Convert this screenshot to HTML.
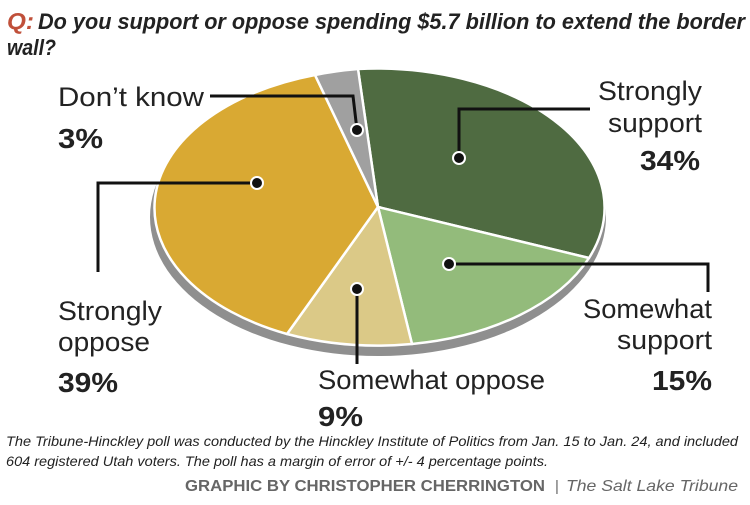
<!DOCTYPE html>
<html><head><meta charset="utf-8"><style>
html,body{margin:0;padding:0;background:#fff;}
svg{display:block;}
text{font-family:"Liberation Sans",sans-serif;}
</style></head><body>
<svg width="750" height="505" viewBox="0 0 750 505" xmlns="http://www.w3.org/2000/svg">
<text x="7" y="29" font-size="23" font-weight="bold" font-style="italic" fill="#c0503a" textLength="27" lengthAdjust="spacingAndGlyphs">Q:</text>
<text x="38" y="29" font-size="22" font-weight="bold" font-style="italic" fill="#222" textLength="707" lengthAdjust="spacingAndGlyphs">Do you support or oppose spending $5.7 billion to extend the border</text>
<text x="7" y="55" font-size="22" font-weight="bold" font-style="italic" fill="#222" textLength="49" lengthAdjust="spacingAndGlyphs">wall?</text>

<ellipse cx="378" cy="217" rx="228" ry="139" fill="#8f8f8f"/>
<g stroke="#fff" stroke-width="2.5" stroke-linejoin="round">
<path d="M378,207 L358,69 A228,139 0 0 1 589,258 Z" fill="#4f6b41"/>
<path d="M378,207 L589,258 A228,139 0 0 1 412,344 Z" fill="#93bb7b"/>
<path d="M378,207 L412,344 A228,139 0 0 1 287,334 Z" fill="#dbc987"/>
<path d="M378,207 L287,334 A228,139 0 0 1 315,75 Z" fill="#d9a933"/>
<path d="M378,207 L315,75 A228,139 0 0 1 358,69 Z" fill="#a0a0a0"/>
</g>

<g stroke="#111" stroke-width="3" fill="none">
<polyline points="210,96 353,96 357,130"/>
<polyline points="459,158 459,109 590,109"/>
<polyline points="257,183 98,183 98,272"/>
<polyline points="449,264 708,264 708,292"/>
<polyline points="357,289 357,364"/>
</g>
<g fill="#111" stroke="#fff" stroke-width="2">
<circle cx="357" cy="130" r="6"/>
<circle cx="459" cy="158" r="6"/>
<circle cx="257" cy="183" r="6"/>
<circle cx="449" cy="264" r="6"/>
<circle cx="357" cy="289" r="6"/>
</g>

<g font-size="27" fill="#222">
<text x="58" y="106" textLength="146" lengthAdjust="spacingAndGlyphs">Don’t know</text>
<text x="598" y="100" textLength="104" lengthAdjust="spacingAndGlyphs">Strongly</text>
<text x="608" y="132" textLength="94" lengthAdjust="spacingAndGlyphs">support</text>
<text x="58" y="320" textLength="104" lengthAdjust="spacingAndGlyphs">Strongly</text>
<text x="58" y="351" textLength="92" lengthAdjust="spacingAndGlyphs">oppose</text>
<text x="583" y="318" textLength="129" lengthAdjust="spacingAndGlyphs">Somewhat</text>
<text x="617" y="349" textLength="95" lengthAdjust="spacingAndGlyphs">support</text>
<text x="318" y="389" textLength="227" lengthAdjust="spacingAndGlyphs">Somewhat oppose</text>
</g>
<g font-size="28" font-weight="bold" fill="#222">
<text x="58" y="148" textLength="45" lengthAdjust="spacingAndGlyphs">3%</text>
<text x="640" y="170" textLength="60" lengthAdjust="spacingAndGlyphs">34%</text>
<text x="58" y="392" textLength="60" lengthAdjust="spacingAndGlyphs">39%</text>
<text x="652" y="390" textLength="60" lengthAdjust="spacingAndGlyphs">15%</text>
<text x="318" y="426" textLength="45" lengthAdjust="spacingAndGlyphs">9%</text>
</g>

<g font-size="14" font-style="italic" fill="#222">
<text x="6" y="446" textLength="732" lengthAdjust="spacingAndGlyphs">The Tribune-Hinckley poll was conducted by the Hinckley Institute of Politics from Jan. 15 to Jan. 24, and included</text>
<text x="6" y="466" textLength="542" lengthAdjust="spacingAndGlyphs">604 registered Utah voters. The poll has a margin of error of +/- 4 percentage points.</text>
</g>
<text x="185" y="491" font-size="16" font-weight="bold" fill="#666" textLength="360" lengthAdjust="spacingAndGlyphs">GRAPHIC BY CHRISTOPHER CHERRINGTON</text>
<text x="555" y="491" font-size="15" fill="#666">|</text>
<text x="566" y="491" font-size="16" font-style="italic" fill="#666" textLength="172" lengthAdjust="spacingAndGlyphs">The Salt Lake Tribune</text>
</svg>
</body></html>
